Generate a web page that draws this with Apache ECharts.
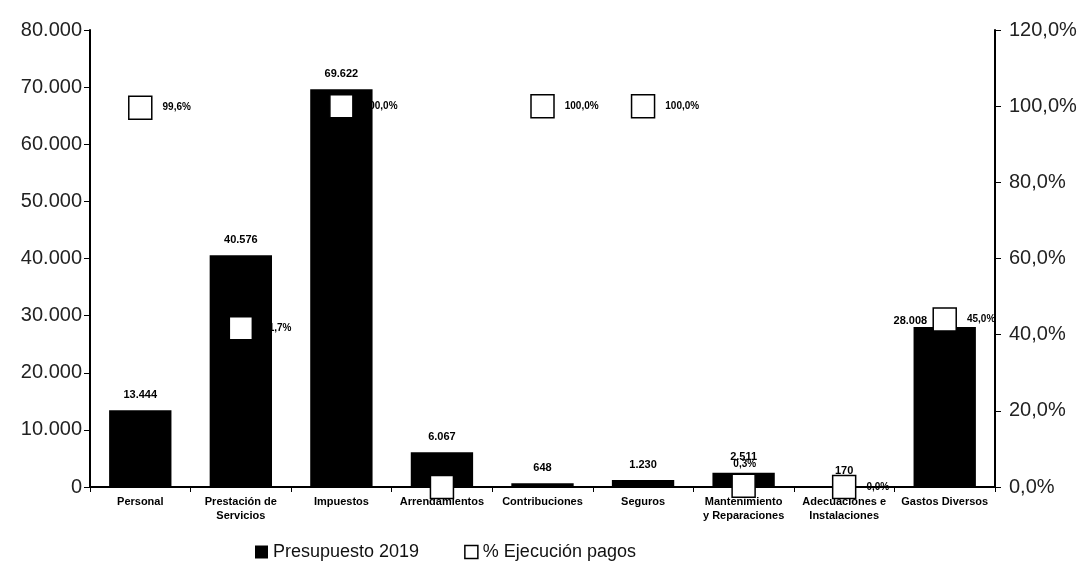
<!DOCTYPE html>
<html>
<head>
<meta charset="utf-8">
<script src="https://cdn.jsdelivr.net/npm/echarts@6/dist/echarts.min.js"></script>
<style>
  html, body { margin: 0; padding: 0; background: #fff; }
  #chart { width: 1086px; height: 574px; }
</style>
</head>
<body>
<div id="chart"></div>
<script>
// rubros del presupuesto
const categories = ['Personal', 'Prestación de\nServicios', 'Impuestos', 'Arrendamientos', 'Contribuciones',
  'Seguros', 'Mantenimiento\ny Reparaciones', 'Adecuaciones e\nInstalaciones', 'Gastos Diversos']
// Presupuesto 2019 (millones)
const presupuesto = [13444, 40576, 69622, 6067, 648, 1230, 2511, 170, 28008]
const ejecucion = [99.6, 41.7, 100.0, 0.8, 100.0, 100.0, 0.3, 0.0, 45.0]
const ejecucionY = [99.6, 41.7, 100.0, 0.0, 100.0, 100.0, 0.3, 0.0, 44.0]

const fmtMiles = (v) => String(v).replace(/\B(?=(\d{3})+(?!\d))/g, '.')
const fmtPct = (v) => v.toFixed(1).replace('.', ',') + '%'

const chart = echarts.init(document.getElementById('chart'))
const option = {
  animation: false,
  textStyle: { fontFamily: 'Liberation Sans, Arial, sans-serif' },
  grid: { left: 90, right: 91, top: 30, bottom: 87 },
  legend: {
    bottom: 8,
    left: 250,
    itemGap: 45,
    itemWidth: 13,
    itemHeight: 13,
    textStyle: { fontSize: 18, color: '#111' },
    data: [
      { name: 'Presupuesto 2019', icon: 'rect' },
      { name: '% Ejecución pagos', icon: 'rect', itemStyle: { color: '#fff', borderColor: '#000', borderWidth: 1.5 } }
    ]
  },
  xAxis: {
    type: 'category',
    data: categories,
    axisLine: { lineStyle: { color: '#000', width: 2 } },
    axisTick: { show: true, alignWithLabel: false, length: 5, lineStyle: { color: '#000' } },
    axisLabel: { color: '#000', fontSize: 11, fontWeight: 'bold', interval: 0, lineHeight: 14, margin: 8 }
  },
  yAxis: [
    {
      type: 'value', min: 0, max: 80000, interval: 10000,
      splitLine: { show: false },
      axisLine: { show: true, lineStyle: { color: '#000', width: 2 } },
      axisTick: { show: true, length: 6, lineStyle: { color: '#000' } },
      axisLabel: { color: '#222', fontSize: 20, margin: 8, formatter: fmtMiles }
    },
    {
      type: 'value', min: 0, max: 120, interval: 20,
      splitLine: { show: false },
      axisLine: { show: true, lineStyle: { color: '#000', width: 2 } },
      axisTick: { show: true, length: 6, lineStyle: { color: '#000' } },
      axisLabel: { color: '#222', fontSize: 20, margin: 14, formatter: fmtPct }
    }
  ],
  series: [
    {
      name: 'Presupuesto 2019',
      type: 'bar',
      data: presupuesto.map((v, i) => i === 8
        ? { value: v, label: { position: 'insideTopLeft', offset: [-30, -22] } }
        : v),
      barWidth: '62%',
      itemStyle: { color: '#000' },
      label: {
        show: true, position: 'top', distance: 10, color: '#000', fontSize: 11, fontWeight: 'bold',
        formatter: (p) => fmtMiles(p.value)
      }
    },
    {
      name: '% Ejecución pagos',
      type: 'scatter',
      yAxisIndex: 1,
      data: ejecucionY.map((v, i) => ({
        value: v,
        label: {
          position: (i === 3 || i === 6) ? [2, -14] : 'right',
          formatter: fmtPct(ejecucion[i])
        }
      })),
      symbol: 'rect',
      symbolSize: 23,
      itemStyle: { color: '#fff', borderColor: '#000', borderWidth: 1.5, opacity: 1 },
      label: { show: true, position: 'right', distance: 10, color: '#000', fontSize: 10, fontWeight: 'bold' },
      z: 5
    }
  ]
}
chart.setOption(option)
</script>
</body>
</html>
